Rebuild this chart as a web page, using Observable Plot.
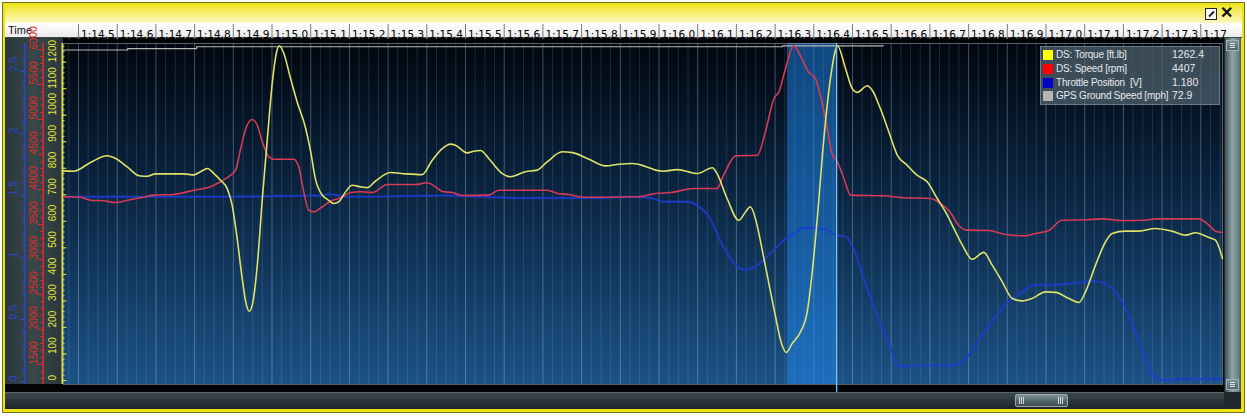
<!DOCTYPE html>
<html>
<head>
<meta charset="utf-8">
<script src="https://cdn.jsdelivr.net/npm/d3@7"></script>
<script src="https://cdn.jsdelivr.net/npm/@observablehq/plot@0.6"></script>
<style>
html, body { margin:0; padding:0; background:#ffffff; }
body { width:1247px; height:417px; position:relative; overflow:hidden; font-family:"Liberation Sans", Arial, sans-serif; }
.a { position:absolute; box-sizing:border-box; }
#outer { left:2px; top:2px; width:1243px; height:411px; border:1px solid #77721c; background:#ebe21a; }
#title { left:5px; top:5px; width:1237px; height:18px; background:linear-gradient(#efe624, #f6ef70 45%, #fbf8c4); }
#hdr { left:5px; top:23px; width:1237px; height:15px; background:linear-gradient(#ffffff, #ebebeb); border-bottom:1px solid #444; }
#hdrTime { left:8px; top:24px; font-size:11px; color:#111; line-height:13px; }
#lp { left:5px; top:38px; width:58px; height:347px; background:linear-gradient(90deg, #2b383b, #38474a 50%, #2a3639); }
#topblack { left:63px; top:38px; width:1161px; height:5px; background:#020306; }
#plotbg { left:63px; top:43px; width:1159px; height:341px; background:linear-gradient(#02070f, #06182c 25%, #0c2a49 50%, #143e67 75%, #1c5286); }
#rgap { left:1222px; top:43px; width:2px; height:341px; background:#0a0f14; }
#bband { left:5px; top:384px; width:1219px; height:8px; background:#030405; }
#hs { left:5px; top:392px; width:1219px; height:17px; background:linear-gradient(#3c484c, #283236 60%, #1c2428); border-top:1px solid #59666a; }
#thumb { width:53px; height:13px; background:linear-gradient(#7d9298, #4f6268 60%, #3c4c52); border:1px solid #98a8ac; border-radius:2px; }
.grip { top:2px; width:6px; height:7px; background:repeating-linear-gradient(90deg, #d0dadc 0 1px, transparent 1px 2px); }
#vs { left:1224px; top:38px; width:17px; height:354px; background:linear-gradient(90deg, #3f5156, #8ea4a8 45%, #6f878c 80%, #4d5f63); border-left:1px solid #222c2e; }
.vbtn { left:1226px; width:13px; height:11px; border:1px solid #9fb0b3; background:linear-gradient(#7c9296, #52666a); }
.vbtn::after { content:""; position:absolute; left:3px; top:2px; width:5px; height:5px; background:repeating-linear-gradient(#e0e8ea 0 1px, transparent 1px 2px); }
#corner { left:1224px; top:392px; width:17px; height:17px; background:#22292c; }
#pin { left:1205px; top:8px; width:12px; height:12px; border:1px solid #222; background:#fafafa; }
#pin::after { content:""; position:absolute; left:2px; top:4px; width:7px; height:2px; background:#222; transform:rotate(-45deg); }
#close { left:1220px; top:4px; font-size:16px; font-weight:bold; color:#111; line-height:18px; }
#chart { left:0; top:0; z-index:5; }
#legend { left:1040px; top:46px; width:180px; height:59px; background:rgba(80,100,112,0.72); border:1px solid rgba(140,160,170,0.55); z-index:6; padding-top:1px; }
.row { position:relative; height:13.8px; font-size:10px; letter-spacing:-0.2px; line-height:13.8px; color:#e6eaec; white-space:pre; }
.sw { position:absolute; left:2px; top:2px; width:10px; height:10px; }
.nm { position:absolute; left:15px; }
.vl { position:absolute; left:131px; font-size:10.5px; letter-spacing:0; }
</style>
</head>
<body>
<div class="a" id="outer"></div>
<div class="a" id="title"></div>
<div class="a" id="pin"></div>
<div class="a" id="close">✕</div>
<div class="a" id="hdr"></div>
<div class="a" id="hdrTime">Time</div>
<div class="a" id="lp"></div>
<div class="a" id="topblack"></div>
<div class="a" id="plotbg"></div>
<div class="a" id="rgap"></div>
<div class="a" id="bband"></div>
<div class="a" id="hs"><div class="a" id="thumb" style="left:1010px;top:1px;"><div class="a grip" style="left:3px"></div><div class="a grip" style="left:42px"></div></div></div>
<div class="a" id="vs"></div>
<div class="a vbtn" style="top:40px"></div>
<div class="a vbtn" style="top:379px"></div>
<div class="a" id="corner"></div>
<div class="a" id="chart"></div>
<div class="a" id="legend"></div>
<script>
// ---- data (time in seconds, values in series units) ----
const torque = [[74.460,790],[74.488,789],[74.531,822],[74.574,847],[74.596,837],[74.626,805],[74.656,772],[74.678,770],[74.699,779],[74.772,779],[74.798,775],[74.815,787],[74.833,799],[74.850,780],[74.867,755],[74.884,724],[74.897,661],[74.910,535],[74.923,384],[74.934,284],[74.941,261],[74.949,284],[74.962,435],[74.975,686],[74.988,912],[75.001,1126],[75.012,1239],[75.019,1262],[75.029,1239],[75.048,1138],[75.065,1050],[75.087,950],[75.100,862],[75.112,761],[75.130,698],[75.143,683],[75.160,667],[75.173,674],[75.190,711],[75.207,736],[75.229,730],[75.246,727],[75.267,751],[75.306,784],[75.345,779],[75.388,776],[75.414,830],[75.440,874],[75.461,891],[75.474,887],[75.504,858],[75.521,864],[75.539,867],[75.560,837],[75.595,780],[75.616,768],[75.655,787],[75.685,793],[75.711,824],[75.750,862],[75.776,859],[75.819,834],[75.862,809],[75.896,815],[75.931,818],[75.965,807],[75.991,793],[76.012,789],[76.047,795],[76.099,780],[76.138,802],[76.150,780],[76.176,686],[76.206,604],[76.224,636],[76.236,655],[76.249,611],[76.271,460],[76.297,271],[76.318,133],[76.329,106],[76.344,139],[76.366,184],[76.383,259],[76.396,410],[76.409,611],[76.426,912],[76.443,1138],[76.456,1245],[76.461,1262],[76.482,1176],[76.499,1101],[76.512,1086],[76.538,1111],[76.551,1094],[76.572,1025],[76.594,937],[76.616,849],[76.641,812],[76.667,774],[76.693,749],[76.719,686],[76.745,623],[76.758,585],[76.784,510],[76.809,457],[76.839,483],[76.861,435],[76.887,372],[76.913,309],[76.939,300],[76.964,309],[76.999,334],[77.025,332],[77.059,309],[77.085,294],[77.102,334],[77.128,435],[77.154,523],[77.171,554],[77.205,563],[77.240,563],[77.283,573],[77.326,563],[77.361,548],[77.386,557],[77.421,539],[77.438,529],[77.456,460]];
const speed = [[74.460,3896],[74.505,3890],[74.531,3847],[74.565,3839],[74.596,3814],[74.626,3847],[74.660,3881],[74.695,3919],[74.746,3929],[74.798,3990],[74.841,4039],[74.867,4110],[74.893,4204],[74.906,4276],[74.919,4586],[74.934,4896],[74.949,5000],[74.962,4919],[74.975,4681],[74.992,4467],[75.005,4433],[75.056,4433],[75.069,4324],[75.082,3967],[75.095,3704],[75.108,3681],[75.130,3753],[75.151,3833],[75.177,3881],[75.203,3957],[75.229,3967],[75.259,3957],[75.298,4071],[75.371,4071],[75.401,4096],[75.444,3967],[75.466,3957],[75.491,3914],[75.560,3919],[75.586,3990],[75.711,3990],[75.741,3939],[75.767,3929],[75.802,3890],[75.862,3890],[75.948,3896],[75.991,3943],[76.030,3957],[76.090,4014],[76.150,4014],[76.167,4204],[76.198,4481],[76.254,4490],[76.275,4824],[76.297,5300],[76.310,5396],[76.327,5729],[76.348,6053],[76.369,5871],[76.386,5681],[76.404,5586],[76.417,5347],[76.435,4871],[76.447,4514],[76.460,4407],[76.478,4157],[76.495,3919],[76.581,3910],[76.624,3886],[76.701,3871],[76.727,3800],[76.753,3671],[76.774,3490],[76.796,3419],[76.852,3414],[76.895,3357],[76.947,3339],[76.972,3371],[77.006,3410],[77.041,3561],[77.102,3567],[77.145,3581],[77.197,3557],[77.257,3561],[77.283,3581],[77.395,3581],[77.421,3490],[77.438,3404],[77.456,3386]];
const throttle = [[74.460,1.49],[74.815,1.49],[75.120,1.50],[75.151,1.51],[75.190,1.49],[75.448,1.50],[75.539,1.49],[75.642,1.48],[75.849,1.48],[75.926,1.49],[75.978,1.48],[76.012,1.45],[76.073,1.45],[76.099,1.42],[76.133,1.31],[76.159,1.13],[76.185,0.99],[76.219,0.90],[76.245,0.92],[76.280,1.01],[76.323,1.14],[76.348,1.19],[76.374,1.24],[76.426,1.23],[76.459,1.18],[76.482,1.17],[76.503,1.07],[76.529,0.83],[76.564,0.53],[76.598,0.27],[76.620,0.12],[76.667,0.13],[76.753,0.13],[76.784,0.16],[76.818,0.29],[76.852,0.45],[76.895,0.62],[76.939,0.72],[76.973,0.78],[77.025,0.78],[77.085,0.80],[77.128,0.81],[77.171,0.75],[77.197,0.64],[77.231,0.40],[77.257,0.19],[77.274,0.05],[77.309,0.01],[77.343,0.02],[77.456,0.02]];
const gpsSpeed = [[74.461,72.0],[74.627,72.3],[74.805,72.7],[76.319,72.9],[76.580,72.9]];

const seriesNames = ["DS: Torque [ft.lb]", "DS: Speed [rpm]", "Throttle Position  [V]", "GPS Ground Speed [mph]"];
const swatchColors = ["#ffff00", "#ff0000", "#0000c8", "#b4b4b4"];
const cursorValues = ["1262.4", "4407", "1.180", "72.9"];
const cursorTime = 76.459;
const selectionStart = 76.332;

const timeTicks = [74.5,74.6,74.7,74.8,74.9,75.0,75.1,75.2,75.3,75.4,75.5,75.6,75.7,75.8,75.9,76.0,76.1,76.2,76.3,76.4,76.5,76.6,76.7,76.8,76.9,77.0,77.1,77.2,77.3,77.4];
const timeLabels = ["1:14.5","1:14.6","1:14.7","1:14.8","1:14.9","1:15.0","1:15.1","1:15.2","1:15.3","1:15.4","1:15.5","1:15.6","1:15.7","1:15.8","1:15.9","1:16.0","1:16.1","1:16.2","1:16.3","1:16.4","1:16.5","1:16.6","1:16.7","1:16.8","1:16.9","1:17.0","1:17.1","1:17.2","1:17.3","1:17"];
const throttleTicks = [0, 0.5, 1, 1.5, 2, 2.5];
const throttleLabels = ["0", "0.5", "1", "1.5", "2", "2.5"];
const speedTicks = [1500, 2000, 2500, 3000, 3500, 4000, 4500, 5000, 5500, 6000];
const torqueTicks = [0, 100, 200, 300, 400, 500, 600, 700, 800, 900, 1000, 1100, 1200];

// ---- scales: the y scale is in torque units; other series are mapped onto it ----
const xDomain = [74.4612, 77.4561];
const yDomain = [-15.1, 1270.3];
const sY = d3.scaleLinear([1214.3, 6085.7], yDomain);
const vY = d3.scaleLinear([-0.024, 2.726], yDomain);
const gY = d3.scaleLinear([0, 73.4], yDomain);

const gridIdx = d3.range(2979, 3099);
const minorGrid = gridIdx.filter(i => i % 4 !== 0).map(i => i / 40);
const majorGrid = gridIdx.filter(i => i % 4 === 0).map(i => i / 40);
const allGrid = gridIdx.map(i => i / 40);
const thrMinor = d3.range(0, 28).map(i => i / 10);
const spdMinor = d3.range(13, 61).map(i => i * 100);
const trqMinor = d3.range(0, 64).map(i => i * 20);

const none = () => "";
const BLUE = "#2846d8", RED = "#e02a2e", YEL = "#e2e23c";

const chart = Plot.plot({
  width: 1247, height: 417,
  marginLeft: 63, marginRight: 25, marginTop: 43, marginBottom: 33,
  x: {domain: xDomain, axis: null},
  y: {domain: yDomain, axis: null},
  style: {background: "transparent", fontFamily: "'Liberation Sans', Arial, sans-serif", fontSize: "10px", overflow: "visible"},
  marks: [
    Plot.ruleX(minorGrid, {stroke: "#a9c3dd", strokeOpacity: 0.16}),
    Plot.ruleX(majorGrid, {stroke: "#bcd4ec", strokeOpacity: 0.34}),
    Plot.rect([{a: selectionStart, b: cursorTime}], {x1: "a", x2: "b", fill: "#1f8af2", fillOpacity: 0.5}),
    Plot.frame({stroke: "#a0aab4", strokeOpacity: 0.55}),
    Plot.line(gpsSpeed, {x: d => d[0], y: d => gY(d[1]), stroke: "#b6b6b6", strokeWidth: 1.2, curve: "step-after"}),
    Plot.line(throttle, {x: d => d[0], y: d => vY(d[1]), stroke: "#2a4cff", strokeWidth: 3.5, strokeOpacity: 0.14, curve: "monotone-x"}),
    Plot.line(throttle, {x: d => d[0], y: d => vY(d[1]), stroke: "#1d3ad0", strokeWidth: 1.4, curve: "monotone-x"}),
    Plot.line(speed, {x: d => d[0], y: d => sY(d[1]), stroke: "#d83a55", strokeWidth: 1.6, curve: "monotone-x"}),
    Plot.line(torque, {x: d => d[0], y: d => d[1], stroke: "#dfe266", strokeWidth: 1.6, curve: "monotone-x"}),
    Plot.ruleX([cursorTime], {stroke: "#78c4ee", strokeWidth: 1.3, insetBottom: -8}),
    // time header
    Plot.axisX({anchor: "top", ticks: allGrid, tickSize: 2, dy: -5, stroke: "#666", fill: "none", tickFormat: none}),
    Plot.axisX({anchor: "top", ticks: timeTicks, tickSize: 15, dy: -5, stroke: "#7a7a7a", fill: "none", tickFormat: none}),
    Plot.text(timeTicks, {x: d => d, text: (d, i) => timeLabels[i], frameAnchor: "top", textAnchor: "start", dx: 2.5, dy: -13, fill: "#000", fontSize: 10.5, fontFamily: "'DejaVu Sans', sans-serif"}),
    // throttle axis (blue)
    Plot.ruleX([xDomain[0]], {dx: -39, stroke: BLUE, strokeWidth: 1.5}),
    Plot.axisY({anchor: "left", ticks: thrMinor.map(v => vY(v)), tickSize: 2.5, dx: -39, stroke: BLUE, fill: "none", tickFormat: none}),
    Plot.axisY({anchor: "left", ticks: throttleTicks.map(v => vY(v)), tickSize: 5, dx: -39, stroke: BLUE, fill: "none", tickFormat: none}),
    Plot.text(throttleTicks, {y: d => vY(d), text: (d, i) => throttleLabels[i], frameAnchor: "left", dx: -50, rotate: -90, fill: BLUE, fontSize: 10.5}),
    // speed axis (red)
    Plot.ruleX([xDomain[0]], {dx: -20.3, stroke: RED, strokeWidth: 1.5}),
    Plot.axisY({anchor: "left", ticks: spdMinor.map(v => sY(v)), tickSize: 2.5, dx: -20.3, stroke: RED, fill: "none", tickFormat: none}),
    Plot.axisY({anchor: "left", ticks: speedTicks.map(v => sY(v)), tickSize: 5, dx: -20.3, stroke: RED, fill: "none", tickFormat: none}),
    Plot.text(speedTicks, {y: d => sY(d), text: d => String(d), frameAnchor: "left", dx: -30, rotate: -90, fill: RED, fontSize: 10.5}),
    // torque axis (yellow)
    Plot.ruleX([xDomain[0]], {dx: -1.3, stroke: YEL, strokeWidth: 1.5}),
    Plot.axisY({anchor: "left", ticks: trqMinor, tickSize: 2.5, dx: 1.5, stroke: YEL, fill: "none", tickFormat: none}),
    Plot.axisY({anchor: "left", ticks: torqueTicks, tickSize: 4.5, dx: 3.5, stroke: YEL, fill: "none", tickFormat: none}),
    Plot.text(torqueTicks, {y: d => d, text: d => String(d), frameAnchor: "left", dx: -11, rotate: -90, fill: YEL, fontSize: 10})
  ]
});
document.getElementById("chart").appendChild(chart);

const lg = document.getElementById("legend");
seriesNames.forEach((n, i) => {
  const row = document.createElement("div");
  row.className = "row";
  const sw = document.createElement("span"); sw.className = "sw"; sw.style.background = swatchColors[i];
  const nm = document.createElement("span"); nm.className = "nm"; nm.textContent = n;
  const vl = document.createElement("span"); vl.className = "vl"; vl.textContent = cursorValues[i];
  row.append(sw, nm, vl);
  lg.appendChild(row);
});
</script>
</body>
</html>
